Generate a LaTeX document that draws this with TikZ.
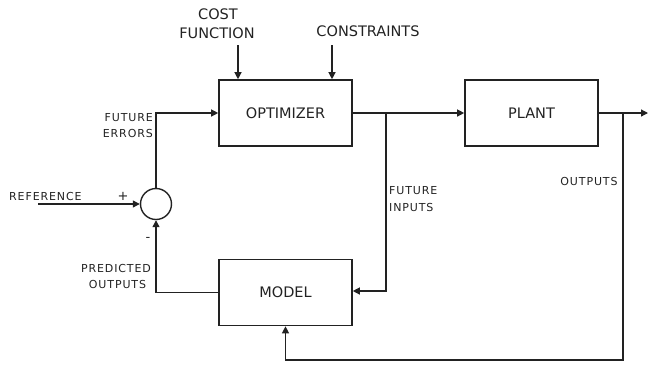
\documentclass[tikz,border=0pt]{standalone}
\usepackage{fontspec}
\setmainfont{DejaVu Sans}
\newfontfamily\lblfont[LetterSpace=8]{DejaVu Sans}
\usetikzlibrary{arrows.meta,calc}
\definecolor{ink}{HTML}{222222}
\begin{document}
\begin{tikzpicture}[x=1pt,y=-1pt,
  block/.style={draw=ink,line width=1.6pt,minimum width=133pt,minimum height=66pt,inner sep=0pt,font=\fontsize{14.5}{16}\selectfont,text=ink},
  sumnode/.style={draw=ink,line width=1.4pt,circle,minimum size=31pt,inner sep=0pt},
  conn/.style={draw=ink,line width=1.2pt},
  arr/.style={conn,-{Triangle[length=7pt,width=7pt]}},
  big/.style={font=\fontsize{14.5}{16}\selectfont,text=ink,inner sep=0pt},
  lbl/.style={font=\lblfont\fontsize{11}{12}\selectfont,text=ink,inner sep=0pt}]
\useasboundingbox (0,0) rectangle (648,365);
% blocks
\node[block] (opt) at (285.5,113) {OPTIMIZER};
\node[block] (plant) at (531.5,113) {PLANT};
\node[block] (model) at (285.5,292.5) {MODEL};
\node[sumnode] (sum) at (156,204) {};
% coordinates
\coordinate (costin) at (238,45);
\coordinate (consin) at (332,45);
\coordinate (refin) at (38,204);
\coordinate (b1) at (386,113);
\coordinate (b2) at (623,113);
\coordinate (outend) at (648,113);
\coordinate (fbcorner) at (623,360);
% labels
\node[big] (tcost) at (218,14.5) {COST};
\node[big] (tfunc) at (217,33.5) {FUNCTION};
\node[big] (tcons) at (368,31) {CONSTRAINTS};
\node[lbl,anchor=east] (tfe1) at (153,117.5) {FUTURE};
\node[lbl,anchor=east] (tfe2) at (153,133) {ERRORS};
\node[lbl,anchor=west] (tref) at (9,196) {REFERENCE};
\node[lbl,font=\fontsize{13}{14}\selectfont] (tplus) at (123,196) {+};
\node[lbl,font=\fontsize{13}{14}\selectfont] (tminus) at (148,239) {-};
\node[lbl] (tpo1) at (116,268) {PREDICTED};
\node[lbl] (tpo2) at (117.5,284) {OUTPUTS};
\node[lbl,anchor=west] (tfi1) at (389,191) {FUTURE};
\node[lbl,anchor=west] (tfi2) at (389,207) {INPUTS};
\node[lbl] (tout) at (589,181) {OUTPUTS};
% connectors
\draw[arr] (costin) -- (costin |- opt.north);
\draw[arr] (consin) -- (consin |- opt.north);
\draw[arr] (refin) -- (sum.west);
\draw[arr] (sum.north) |- (opt.west);
\draw[arr] (opt.east) -- (plant.west);
\draw[arr] (b1) |- ($(model.east)+(0,-1.5)$);
\draw[arr] (plant.east) -- (outend);
\draw[arr] (b2) -- (fbcorner) -| (model.south);
\draw[arr] (model.west) -| (sum.south);
\end{tikzpicture}
\end{document}
